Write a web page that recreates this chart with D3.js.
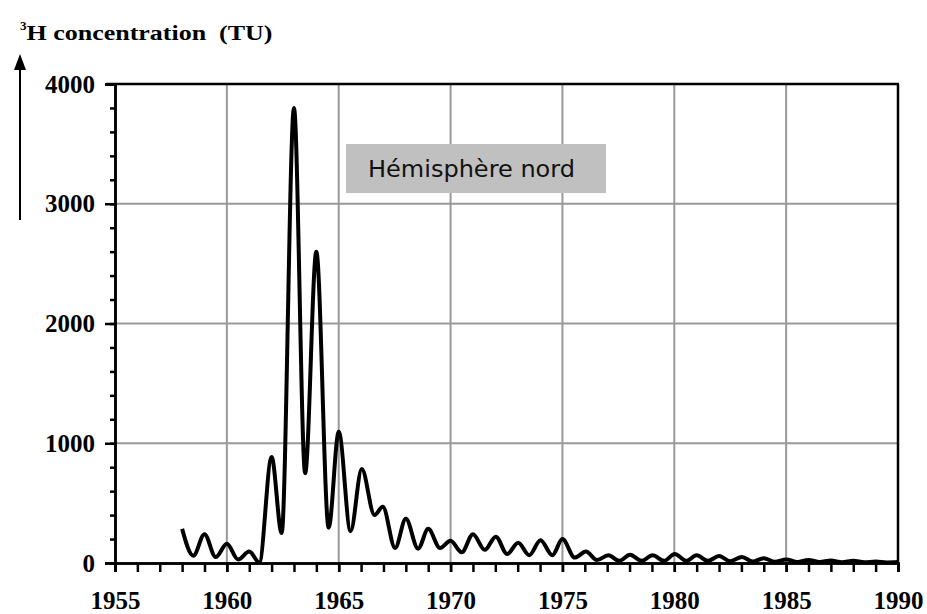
<!DOCTYPE html>
<html>
<head>
<meta charset="utf-8">
<script src="https://cdn.jsdelivr.net/npm/d3@7"></script>
<style>
  body { margin: 0; background: #fff; }
  .tick text { font-family: "Liberation Serif", "Times New Roman", serif; font-weight: bold; }
</style>
</head>
<body>
<div class="chart"></div>
<script>
//Data: decimal year and tritium value (TU)
var years = [1958.0, 1958.5, 1959.0, 1959.5, 1960.0, 1960.5, 1961.0, 1961.45, 1962.0, 1962.45,
    1963.0, 1963.5, 1964.0, 1964.55, 1965.0, 1965.53, 1966.03, 1966.6, 1966.97, 1967.52,
    1968.0, 1968.55, 1969.0, 1969.53, 1970.0, 1970.5, 1971.0, 1971.53, 1972.02, 1972.53,
    1973.02, 1973.52, 1974.02, 1974.55, 1975.0, 1975.55, 1976.05, 1976.55, 1977.05, 1977.55,
    1978.02, 1978.55, 1979.03, 1979.55, 1980.02, 1980.55, 1981.0, 1981.5, 1982.0, 1982.5,
    1983.03, 1983.5, 1984.0, 1984.5, 1985.0, 1985.5, 1986.0, 1986.5, 1987.0, 1987.5,
    1988.0, 1988.5, 1989.0, 1989.5, 1990.0];
var tritium = [285, 60, 240, 50, 160, 30, 95, 5, 885, 250,
    3800, 750, 2600, 295, 1095, 265, 785, 400, 470, 125,
    370, 120, 285, 125, 185, 90, 240, 110, 220, 75,
    170, 65, 190, 65, 200, 45, 95, 25, 65, 18,
    68, 18, 65, 18, 75, 18, 65, 18, 58, 15,
    50, 12, 40, 10, 30, 8, 25, 8, 20, 6,
    18, 6, 12, 5, 8];

//Axis ticks
var xMajor = [1955, 1960, 1965, 1970, 1975, 1980, 1985, 1990];
var xMinor = d3.range(1955, 1991, 1);
var yMajor = [0, 1000, 2000, 3000, 4000];
var yMinor = d3.range(0, 4001, 200);

var title = "concentration  (TU)";
var boxLabel = "Hémisphère nord";

//Width and height
var w = 927;
var h = 614;
var margin = {top: 84, right: 29, bottom: 51, left: 115};

var svg = d3.select(".chart")
    .append("svg")
    .attr("width", w)
    .attr("height", h);

var xScale = d3.scaleLinear()
    .domain([1955, 1990])
    .range([margin.left, w - margin.right]);

var yScale = d3.scaleLinear()
    .domain([0, 4000])
    .range([h - margin.bottom, margin.top]);

//Grid lines
var grid = svg.append("g").attr("class", "grid");
grid.selectAll(".gx")
    .data(xMajor.slice(1, -1))
    .enter()
    .append("line")
    .attr("x1", d => xScale(d))
    .attr("x2", d => xScale(d))
    .attr("y1", yScale(0))
    .attr("y2", yScale(4000))
    .style("stroke", "#999")
    .style("stroke-width", 2);
grid.selectAll(".gy")
    .data(yMajor.slice(1, -1))
    .enter()
    .append("line")
    .attr("x1", xScale(1955))
    .attr("x2", xScale(1990))
    .attr("y1", d => yScale(d))
    .attr("y2", d => yScale(d))
    .style("stroke", "#999")
    .style("stroke-width", 2);

//Frame: top and right
svg.append("line")
    .attr("x1", xScale(1955) - 9).attr("x2", xScale(1990) + 1)
    .attr("y1", yScale(4000)).attr("y2", yScale(4000))
    .style("stroke", "#000").style("stroke-width", 2.5);
svg.append("line")
    .attr("x1", xScale(1990)).attr("x2", xScale(1990))
    .attr("y1", yScale(4000)).attr("y2", yScale(0))
    .style("stroke", "#000").style("stroke-width", 2.5);

//Box label
svg.append("rect")
    .attr("x", 346)
    .attr("y", 144)
    .attr("width", 260)
    .attr("height", 49)
    .style("fill", "#c0c0c0");
svg.append("text")
    .attr("x", 368)
    .attr("y", 177)
    .style("font-family", "'DejaVu Sans', sans-serif")
    .style("font-size", "23px")
    .style("fill", "#111")
    .attr("textLength", 207)
    .attr("lengthAdjust", "spacingAndGlyphs")
    .text(boxLabel);

//Curve
var line = d3.line()
    .x(d => xScale(d[0]))
    .y(d => yScale(d[1]))
    .curve(d3.curveMonotoneX);

svg.append("path")
    .datum(d3.zip(years, tritium))
    .attr("d", line)
    .style("fill", "none")
    .style("stroke", "#000")
    .style("stroke-width", 4)
    .style("stroke-linejoin", "round");

//Y axis
var yAxisMinor = d3.axisLeft(yScale).tickValues(yMinor).tickSize(5).tickFormat("");
svg.append("g")
    .attr("transform", "translate(" + margin.left + ",0)")
    .call(yAxisMinor);
var yAxis = d3.axisLeft(yScale).tickValues(yMajor).tickSize(10).tickPadding(10).tickFormat(d3.format("d"));
svg.append("g")
    .attr("transform", "translate(" + margin.left + ",0)")
    .call(yAxis)
    .style("font-size", "25px");

//X axis
var xAxisMinor = d3.axisBottom(xScale).tickValues(xMinor).tickSize(9).tickFormat("");
svg.append("g")
    .attr("transform", "translate(0," + (h - margin.bottom) + ")")
    .call(xAxisMinor);
var xAxis = d3.axisBottom(xScale).tickValues(xMajor).tickSize(9).tickPadding(19).tickFormat(d3.format("d"));
svg.append("g")
    .attr("transform", "translate(0," + (h - margin.bottom) + ")")
    .call(xAxis)
    .style("font-size", "25px");

svg.selectAll(".domain, .tick line")
    .style("stroke", "#000")
    .style("stroke-width", 2.5);
svg.selectAll(".tick text").style("fill", "#000");

//Title
var t = svg.append("text")
    .attr("x", 20)
    .attr("y", 36)
    .attr("xml:space", "preserve")
    .style("white-space", "pre")
    .style("font-family", "'Liberation Serif', 'Times New Roman', serif")
    .style("font-weight", "bold")
    .style("font-size", "21px");
t.append("tspan").attr("dy", "-0.45em").style("font-size", "13px").text("3");
t.append("tspan").attr("dy", "0.45em")
    .attr("textLength", 246)
    .attr("lengthAdjust", "spacingAndGlyphs")
    .text("H " + title);

//Arrow
svg.append("line")
    .attr("x1", 20).attr("x2", 20)
    .attr("y1", 220).attr("y2", 66)
    .style("stroke", "#000").style("stroke-width", 2);
svg.append("path")
    .attr("d", "M14,70 L20,54 L26,70 Z")
    .style("fill", "#000");
</script>
</body>
</html>
